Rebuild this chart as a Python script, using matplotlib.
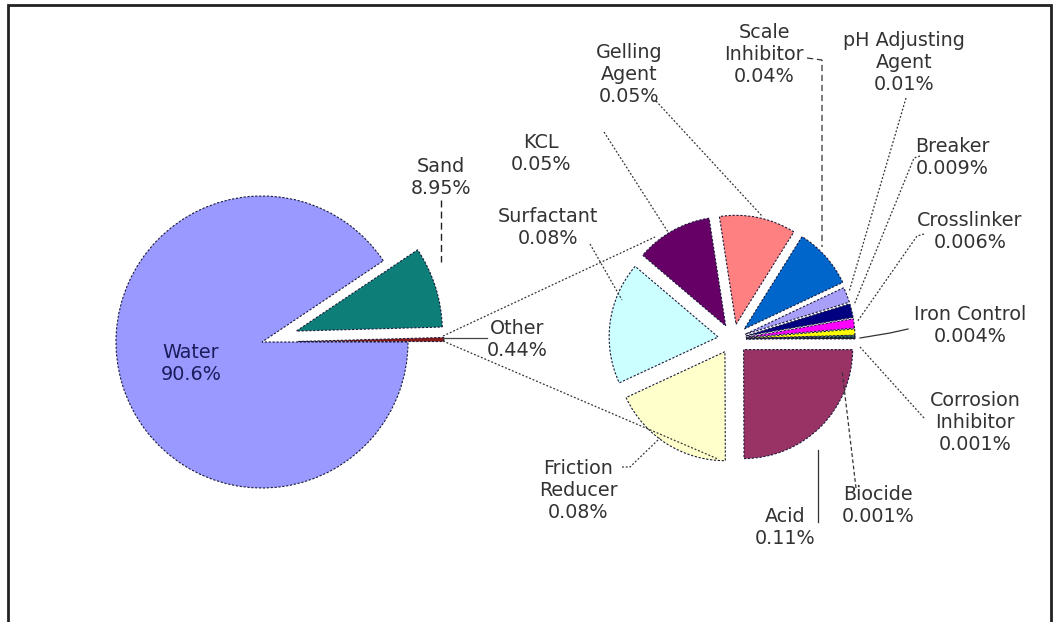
import matplotlib
matplotlib.use("Agg")
import matplotlib.pyplot as plt
from matplotlib.patches import Rectangle

plt.rcParams['font.family'] = ['DejaVu Sans']

# main pie: composition of the fluid
main_labels = ['Other', 'Sand', 'Water']
main_values = [0.44, 8.95, 90.6]
main_text = ['0.44%', '8.95%', '90.6%']
main_colors = ['#8B1A1A', '#0E7F78', '#9999FF']

# secondary pie: breakdown of "Other"
sub_labels = ['Acid', 'Friction\nReducer', 'Surfactant', 'KCL', 'Gelling\nAgent',
              'Scale\nInhibitor', 'pH Adjusting\nAgent', 'Breaker', 'Crosslinker',
              'Iron Control', 'Corrosion\nInhibitor', 'Biocide']
sub_values = [0.11, 0.08, 0.08, 0.05, 0.05, 0.04, 0.01, 0.009, 0.006, 0.004, 0.001, 0.001]
sub_text = ['0.11%', '0.08%', '0.08%', '0.05%', '0.05%', '0.04%', '0.01%',
            '0.009%', '0.006%', '0.004%', '0.001%', '0.001%']
sub_colors = ['#993366', '#FFFFCC', '#CCFFFF', '#660066', '#FF8080', '#0066CC',
              '#A8A0F8', '#000080', '#FF00FF', '#FFFF00', '#1F8A70', '#111111']

W, H = 1056, 622
fig = plt.figure(figsize=(W / 100, H / 100), dpi=100)
ax = fig.add_axes([0, 0, 1, 1])

def P(x, y):
    # picture coords (y down) -> axes coords (y up)
    return (x, H - y)

edge = dict(edgecolor='#1a1a3a', linewidth=0.8, linestyle=(0, (2, 1.5)))

# main pie (explode is in data units = pixels here)
ax.pie(main_values, colors=main_colors, startangle=0, counterclock=True,
       explode=[36, 36, 0], center=P(262, 342), radius=146,
       wedgeprops=edge)

# second pie
ax.pie(sub_values, colors=sub_colors, startangle=0, counterclock=False,
       explode=[15] * 6 + [13] * 6, center=P(733, 339), radius=109,
       wedgeprops=edge)

ax.set_xlim(0, W)
ax.set_ylim(0, H)
ax.set_aspect('equal')
ax.axis('off')

# frame
ax.add_patch(Rectangle(P(8, 700), 1043, 700 - 5, fill=False, edgecolor='#222222',
                       linewidth=2, clip_on=False))

# connector lines between the pies
conn = dict(color='#333333', linewidth=0.9, linestyle=(0, (1.5, 1.5)))
ax.plot(*zip(P(443, 336), P(655, 237)), **conn)
ax.plot(*zip(P(443, 341), P(718, 459)), **conn)

tc = '#333333'
fs = 13.8

# main labels
ax.text(*P(191, 363), 'Water\n' + main_text[2], ha='center', va='center',
        fontsize=fs, color='#1c1c5c', linespacing=1.2)
ax.text(*P(441, 177), 'Sand\n' + main_text[1], ha='center', va='center',
        fontsize=fs, color=tc, linespacing=1.2)
ax.text(*P(517, 339), 'Other\n' + main_text[0], ha='center', va='center',
        fontsize=fs, color=tc, linespacing=1.2)
ax.plot(*zip(P(441, 200), P(441, 262)), color='#222222', linewidth=1,
        linestyle=(0, (5, 3)))
ax.plot(*zip(P(443, 338), P(487, 338)), color='#444444', linewidth=0.9)

# secondary labels: text centre and leader line points
sub_pos = [(785, 528), (578, 490), (548, 228), (541, 154), (629, 75), (764, 55),
           (904, 63), (952, 157), (970, 231), (970, 326), (975, 422), (878, 505)]
leaders = [
    [(818, 450), (818, 522)],
    [(622, 467), (630, 467), (660, 438)],
    [(590, 244), (622, 300)],
    [(604, 132), (668, 232)],
    [(656, 101), (762, 216)],
    [(807, 58), (822, 60), (822, 247)],
    [(906, 98), (849, 292)],
    [(920, 156), (914, 158), (854, 305)],
    [(924, 234), (917, 236), (857, 322)],
    [(908, 329), (890, 333), (860, 338)],
    [(924, 418), (860, 347)],
    [(856, 488), (842, 370)],
]
styles = ['-', (0, (1.5, 1.5)), (0, (1.5, 1.5)), (0, (1.5, 1.5)), (0, (1.5, 1.5)),
          (0, (5, 3)), (0, (1.5, 1.5)), (0, (1.5, 1.5)), (0, (1.5, 1.5)), '-',
          (0, (1.5, 1.5)), (0, (3, 2))]

for lab, txt, pos, pts, ls in zip(sub_labels, sub_text, sub_pos, leaders, styles):
    ax.text(*P(*pos), lab + '\n' + txt, ha='center', va='center', fontsize=fs,
            color=tc, linespacing=1.2)
    xs, ys = zip(*[P(*p) for p in pts])
    ax.plot(xs, ys, color='#333333', linewidth=0.9, linestyle=ls)

fig.savefig('out.png', dpi=100)
